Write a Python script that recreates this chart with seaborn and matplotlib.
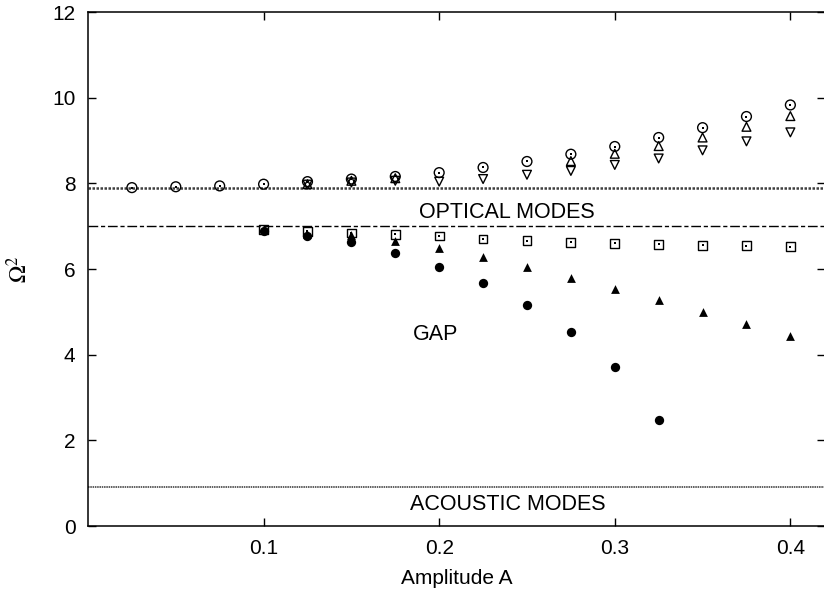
import numpy as np
import pandas as pd
import matplotlib
matplotlib.use("Agg")
import matplotlib.pyplot as plt
import seaborn as sns

# ---------------------------------------------------------------------------
# DATA
# ---------------------------------------------------------------------------
# optical branch, open circles with centre dot
amp_circ = [0.025, 0.05, 0.075, 0.1, 0.125, 0.15, 0.175, 0.2, 0.225, 0.25,
            0.275, 0.3, 0.325, 0.35, 0.375, 0.4]
om_circ = [7.90, 7.92, 7.94, 7.98, 8.04, 8.10, 8.16, 8.25, 8.37, 8.51,
           8.68, 8.86, 9.07, 9.30, 9.56, 9.83]

# open up-triangles
amp_tri_up = [0.125, 0.15, 0.175, 0.275, 0.3, 0.325, 0.35, 0.375, 0.4]
om_tri_up = [7.98, 8.06, 8.12, 8.52, 8.69, 8.87, 9.07, 9.32, 9.57]

# open down-triangles
amp_tri_dn = [0.125, 0.15, 0.175, 0.2, 0.225, 0.25, 0.275, 0.3, 0.325,
              0.35, 0.375, 0.4]
om_tri_dn = [7.97, 8.02, 8.06, 8.04, 8.10, 8.20, 8.29, 8.43, 8.58,
             8.77, 8.98, 9.19]

# open squares with centre dot
amp_sq = [0.1, 0.125, 0.15, 0.175, 0.2, 0.225, 0.25, 0.275, 0.3, 0.325,
          0.35, 0.375, 0.4]
om_sq = [6.93, 6.88, 6.84, 6.81, 6.77, 6.70, 6.66, 6.62, 6.60, 6.58,
         6.55, 6.54, 6.52]

# filled triangles
amp_ftri = [0.1, 0.125, 0.15, 0.175, 0.2, 0.225, 0.25, 0.275, 0.3, 0.325,
            0.35, 0.375, 0.4]
om_ftri = [6.90, 6.82, 6.80, 6.65, 6.48, 6.27, 6.05, 5.80, 5.53, 5.27,
           4.99, 4.71, 4.44]

# filled circles
amp_fcirc = [0.1, 0.125, 0.15, 0.175, 0.2, 0.225, 0.25, 0.275, 0.3, 0.325]
om_fcirc = [6.88, 6.78, 6.62, 6.37, 6.05, 5.67, 5.16, 4.54, 3.71, 2.47]

# band edges
optical_top = 7.9
optical_edge = 7.0
acoustic_top = 0.91

# ---------------------------------------------------------------------------
# PLOT
# ---------------------------------------------------------------------------
sns.set_style("ticks")
plt.rcParams["font.family"] = ["Liberation Sans", "DejaVu Sans"]
plt.rcParams["mathtext.fontset"] = "stix"
plt.rcParams["text.color"] = "black"
plt.rcParams["axes.labelcolor"] = "black"

fig = plt.figure(figsize=(8.24, 6.0), dpi=100)
ax = fig.add_axes([0.1068, 0.1233, 0.895, 0.8567])

ax.axhline(optical_top, color="0.25", lw=1.8, ls=(0, (1, 0.6)), zorder=1)
ax.axhline(optical_edge, color="black", lw=1.0, ls=(0, (7, 2, 3, 2)), zorder=1)
ax.axhline(acoustic_top, color="0.2", lw=1.1, ls=(0, (1, 0.5)), zorder=1)


def open_pts(x, y, marker, size, dot=False):
    sns.scatterplot(x=x, y=y, ax=ax, marker=marker, s=size,
                    facecolor="none", edgecolor="black", linewidth=1.0,
                    zorder=3)
    if dot:
        sns.scatterplot(x=x, y=y, ax=ax, marker="s", s=2,
                        color="black", linewidth=0, zorder=4)


def filled_pts(x, y, marker, size):
    sns.scatterplot(x=x, y=y, ax=ax, marker=marker, s=size,
                    color="black", linewidth=0, zorder=3)


filled_pts(amp_fcirc, om_fcirc, "o", 45)
filled_pts(amp_ftri, om_ftri, "^", 40)
open_pts(amp_sq, om_sq, "s", 40, dot=True)
open_pts(amp_tri_dn, om_tri_dn, "v", 40)
open_pts(amp_tri_up, om_tri_up, "^", 40)
open_pts(amp_circ, om_circ, "o", 50, dot=True)

ax.text(0.2386, 7.31, "OPTICAL MODES", ha="center", va="center", fontsize=15.5)
ax.text(0.198, 4.48, "GAP", ha="center", va="center", fontsize=15.5)
ax.text(0.239, 0.51, "ACOUSTIC MODES", ha="center", va="center", fontsize=15.5)

ax.set_xlim(0, 0.42)
ax.set_ylim(0, 12)
ax.set_xticks([0.1, 0.2, 0.3, 0.4])
ax.set_yticks([0, 2, 4, 6, 8, 10, 12])
ax.tick_params(direction="in", length=6, width=1, top=True, right=True,
               labelsize=15, colors="black", pad=9)
for s in ax.spines.values():
    s.set_linewidth(1.1)
    s.set_color("black")

ax.set_xlabel("Amplitude A", fontsize=15, labelpad=8)
ax.set_ylabel(r"$\Omega^2$", fontsize=17, labelpad=14)

fig.savefig("out.png", dpi=100)
